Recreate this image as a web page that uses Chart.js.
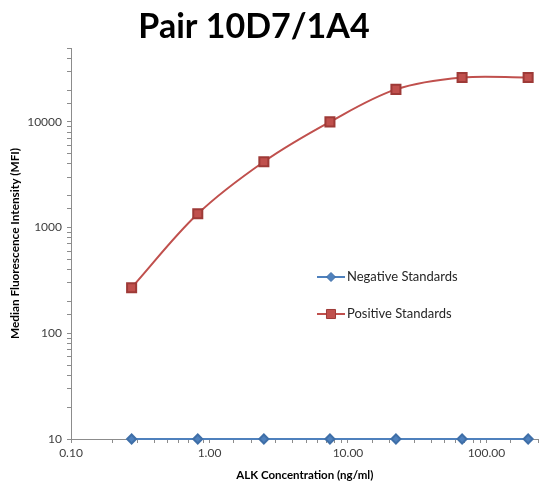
<!DOCTYPE html>
<html>
<head>
<meta charset="utf-8">
<script src="https://cdn.jsdelivr.net/npm/chart.js@4.4.1/dist/chart.umd.min.js"></script>
<style>
  html, body { margin: 0; padding: 0; background: #ffffff; }
  #wrap { width: 547px; height: 485px; position: relative; }
</style>
</head>
<body>
<div id="wrap"><canvas id="c" width="547" height="485"></canvas></div>
<script>
// ---- data ----
const titleText = 'Pair 10D7/1A4';
const xAxisTitle = 'ALK Concentration (ng/ml)';
const yAxisTitle = 'Median Fluorescence Intensity (MFI)';
const concentrations = [0.274, 0.823, 2.47, 7.41, 22.2, 66.7, 200];
const negativeValues = [10, 10, 10, 10, 10, 10, 10];
const positiveValues = [270, 1350, 4200, 10000, 20300, 26300, 26300];
const seriesNames = ['Negative Standards', 'Positive Standards'];
const xTickLabels = { '0.1': '0.10', '1': '1.00', '10': '10.00', '100': '100.00' };
const yTickLabels = { '10': '10', '100': '100', '1000': '1000', '10000': '10000' };

const blue = '#4f81bd';
const red = '#c0504d';
const axisGray = '#8c8c8c';
const FONT = 'Lato, "Open Sans", sans-serif';

function toPoints(xs, ys) { return xs.map((x, i) => ({ x: x, y: ys[i] })); }

const decorations = {
  id: 'decorations',
  afterDraw(chart) {
    const ctx = chart.ctx;
    const area = chart.chartArea;
    ctx.save();
    // title
    ctx.fillStyle = '#000000';
    ctx.font = 'bold 34px ' + FONT;
    ctx.textAlign = 'center';
    ctx.textBaseline = 'alphabetic';
    ctx.fillText(titleText, 254, 38);
    // x axis title
    ctx.font = 'bold 11.5px ' + FONT;
    ctx.textBaseline = 'middle';
    ctx.fillText(xAxisTitle, (area.left + area.right) / 2, 475);
    // y axis title
    ctx.save();
    ctx.translate(15, (area.top + area.bottom) / 2);
    ctx.rotate(-Math.PI / 2);
    ctx.font = 'bold 11.8px ' + FONT;
    ctx.fillText(yAxisTitle, 0, 0);
    ctx.restore();
    // legend
    const rows = [277, 314];
    chart.data.datasets.forEach((ds, i) => {
      const y = rows[i];
      const x0 = 317, x1 = 345, cx = 331;
      ctx.strokeStyle = ds.borderColor;
      ctx.lineWidth = 2;
      ctx.beginPath(); ctx.moveTo(x0, y); ctx.lineTo(x1, y); ctx.stroke();
      ctx.fillStyle = ds.pointBackgroundColor;
      ctx.strokeStyle = ds.pointBorderColor;
      ctx.lineWidth = 1;
      ctx.beginPath();
      if (ds.pointStyle === 'rectRot') {
        const r = ds.pointRadius;
        ctx.moveTo(cx, y - r); ctx.lineTo(cx + r, y); ctx.lineTo(cx, y + r); ctx.lineTo(cx - r, y); ctx.closePath();
      } else {
        const s = ds.pointRadius * Math.SQRT1_2;
        ctx.rect(cx - s, y - s, 2 * s, 2 * s);
      }
      ctx.fill(); ctx.stroke();
      ctx.fillStyle = '#262626';
      ctx.font = '13px ' + FONT;
      ctx.textAlign = 'left';
      ctx.textBaseline = 'middle';
      ctx.fillText(ds.label, 347, y);
    });
    ctx.restore();
  }
};

new Chart(document.getElementById('c'), {
  type: 'line',
  data: {
    datasets: [
      {
        label: seriesNames[0],
        data: toPoints(concentrations, negativeValues),
        borderColor: blue,
        backgroundColor: blue,
        pointBackgroundColor: blue,
        pointBorderColor: '#3f6fa8',
        pointStyle: 'rectRot',
        pointRadius: 4.5,
        borderWidth: 2,
        tension: 0,
        clip: false
      },
      {
        label: seriesNames[1],
        data: toPoints(concentrations, positiveValues),
        borderColor: red,
        backgroundColor: red,
        pointBackgroundColor: red,
        pointBorderColor: '#9e3a37',
        pointStyle: 'rect',
        pointRadius: 6.4,
        borderWidth: 2,
        tension: 0.35,
        clip: false
      }
    ]
  },
  options: {
    responsive: false,
    animation: false,
    devicePixelRatio: 1,
    layout: { padding: { top: 48, left: 0, right: 0, bottom: 0 } },
    plugins: { legend: { display: false }, title: { display: false }, tooltip: { enabled: false } },
    scales: {
      x: {
        type: 'logarithmic',
        min: 0.1,
        max: 238,
        afterFit(scale) { scale.height = 46; },
        border: { display: true, color: axisGray, width: 1 },
        grid: { display: true, drawOnChartArea: false, drawTicks: true, tickLength: 4, color: axisGray },
        ticks: {
          autoSkip: false, maxRotation: 0, minRotation: 0, padding: 3,
          color: '#404040', font: { family: FONT, size: 12 },
          callback(value) { const k = String(Number(value.toPrecision(6))); return xTickLabels[k] || ''; }
        }
      },
      y: {
        type: 'logarithmic',
        min: 10,
        max: 50000,
        afterFit(scale) { scale.width = 71; },
        border: { display: true, color: axisGray, width: 1 },
        grid: { display: true, drawOnChartArea: false, drawTicks: true, tickLength: 4, color: axisGray },
        ticks: {
          autoSkip: false, padding: 5,
          color: '#404040', font: { family: FONT, size: 12 },
          callback(value) { const k = String(Number(value.toPrecision(6))); return yTickLabels[k] || ''; }
        }
      }
    }
  },
  plugins: [decorations]
});
</script>
</body>
</html>
